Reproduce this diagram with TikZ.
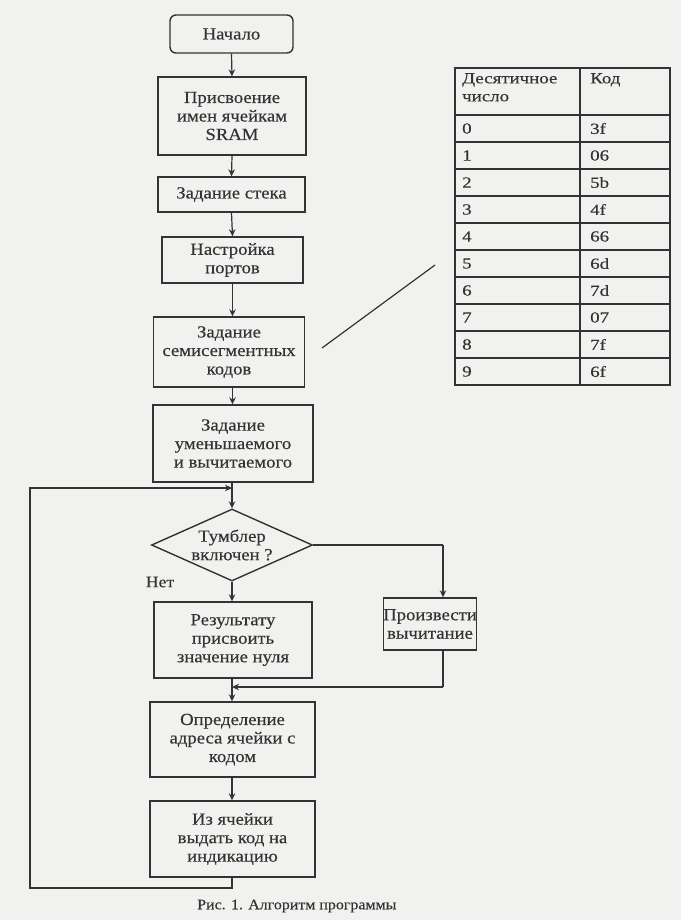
\documentclass[tikz,border=0pt]{standalone}
\usepackage{fontspec}
\setmainfont[FakeStretch=1.1,FakeBold=0.3]{Liberation Serif}
\newfontfamily\tabfont[FakeStretch=1.22,FakeBold=0.3]{Liberation Serif}
\usetikzlibrary{arrows.meta,shapes.geometric,calc}
\definecolor{ink}{HTML}{333333}
\definecolor{paper}{HTML}{F1F1EF}
\begin{document}
\begin{tikzpicture}[x=1pt,y=-1pt,
  box/.style={draw=ink, line width=1.4pt, align=center, inner sep=0pt, text=ink,
    font=\fontsize{17}{18.5}\selectfont},
  term/.style={box, rounded corners=6pt},
  decis/.style={box, diamond, aspect=2.2},
  arr/.style={draw=ink, line width=1.2pt, -{Stealth[length=7pt,width=6.5pt]}},
  ln/.style={draw=ink, line width=1.2pt},
  cell/.style={anchor=west, inner sep=0pt, text=ink, font=\tabfont\fontsize{15.5}{18}\selectfont},
  lbl/.style={inner sep=0pt, text=ink, font=\fontsize{16}{18}\selectfont}]
\useasboundingbox (0,0) rectangle (681,920);
\fill[paper] (0,0) rectangle (681,920);

% flowchart
\node[term, minimum width=123pt, minimum height=38pt] (start) at (231.5,34) {Начало};
\node[box, minimum width=148pt, minimum height=78pt] (n1) at (232,116) {Присвоение\\имен ячейкам\\SRAM};
\node[box, minimum width=147pt, minimum height=35pt] (n2) at (231.5,194.5) {Задание стека};
\node[box, minimum width=141pt, minimum height=46pt] (n3) at (232.5,260) {Настройка\\портов};
\node[box, minimum width=151pt, minimum height=70pt] (n4) at (229,352) {Задание\\семисегментных\\кодов};
\node[box, minimum width=160pt, minimum height=77pt] (n5) at (233,443.5) {Задание\\уменьшаемого\\и вычитаемого};
\node[decis, minimum width=161pt, minimum height=72pt, inner sep=0pt] (dec) at (232,545) {Тумблер\\включен ?};
\node[box, minimum width=158pt, minimum height=76pt] (n6) at (233,640) {Результату\\присвоить\\значение нуля};
\node[box, minimum width=86pt, minimum height=52pt] (n7) at (430,624) {Произвести\\вычитание};
\node[box, minimum width=165pt, minimum height=75pt] (n8) at (232.5,739.5) {Определение\\адреса ячейки с\\кодом};
\node[box, minimum width=165pt, minimum height=76pt] (n9) at (232.5,839) {Из ячейки\\выдать код на\\индикацию};
\node[lbl] (no) at (160,582) {Нет};

\draw[arr] (start.south) -- (n1.north);
\draw[arr] (n1.south) -- (n2.north);
\draw[arr] (n2.south) -- (n3.north);
\draw[arr] (n3.south) -- (n4.north -| n3.south);
\draw[arr] (n4.south -| n3.south) -- (n5.north -| n3.south);
\coordinate (loopin) at (232,488);
\draw[arr] (n5.south -| dec.north) -- (dec.north);
\draw[arr] (dec.south) -- (n6.north -| dec.south);
\coordinate (br) at (443,545);
\draw[ln] (dec.east) -- (br);
\draw[arr] (br) -- (br |- n7.north);
\coordinate (merge) at (232,687);
\coordinate (brb) at (443,687);
\draw[ln] (br |- n7.south) -- (brb);
\draw[arr] (brb) -- (merge);
\draw[ln] (n6.south -| merge) -- (merge);
\draw[arr] (merge) -- (n8.north -| merge);
\draw[arr] (n8.south -| merge) -- (n9.north -| merge);
\coordinate (lb) at (30,888);
\draw[arr] (n9.south -| merge) -- (merge |- lb) -- (lb) -- (lb |- loopin) -- (loopin);

% table
\coordinate (tnw) at (455,68);
\coordinate (tse) at (670,385);
\draw[ink, line width=1.1pt] (tnw) rectangle (tse);
\draw[ink, line width=1.1pt] (580,68) -- (580,385);
\foreach \k in {0,...,9} { \draw[ink, line width=1.1pt] (455,115+27*\k) -- (670,115+27*\k); }
\node[cell, anchor=north west, align=left] (h1) at (462,73) {Десятичное\\число};
\node[cell, anchor=north west] (h2) at (590,73) {Код};
\foreach \d/\c [count=\i from 0] in {0/3f,1/06,2/5b,3/4f,4/66,5/6d,6/7d,7/07,8/7f,9/6f} {
  \node[cell] (d\i) at (462,128.5+27*\i) {\d};
  \node[cell] (c\i) at (590,128.5+27*\i) {\c};
}
\coordinate (la) at (322,348);
\coordinate (lz) at (435,265);
\draw[ln] (la) -- (lz);

\node[lbl, font=\fontsize{14.5}{16}\selectfont, anchor=west] (cap) at (197,906) {Рис. 1. Алгоритм программы};
\end{tikzpicture}
\end{document}
